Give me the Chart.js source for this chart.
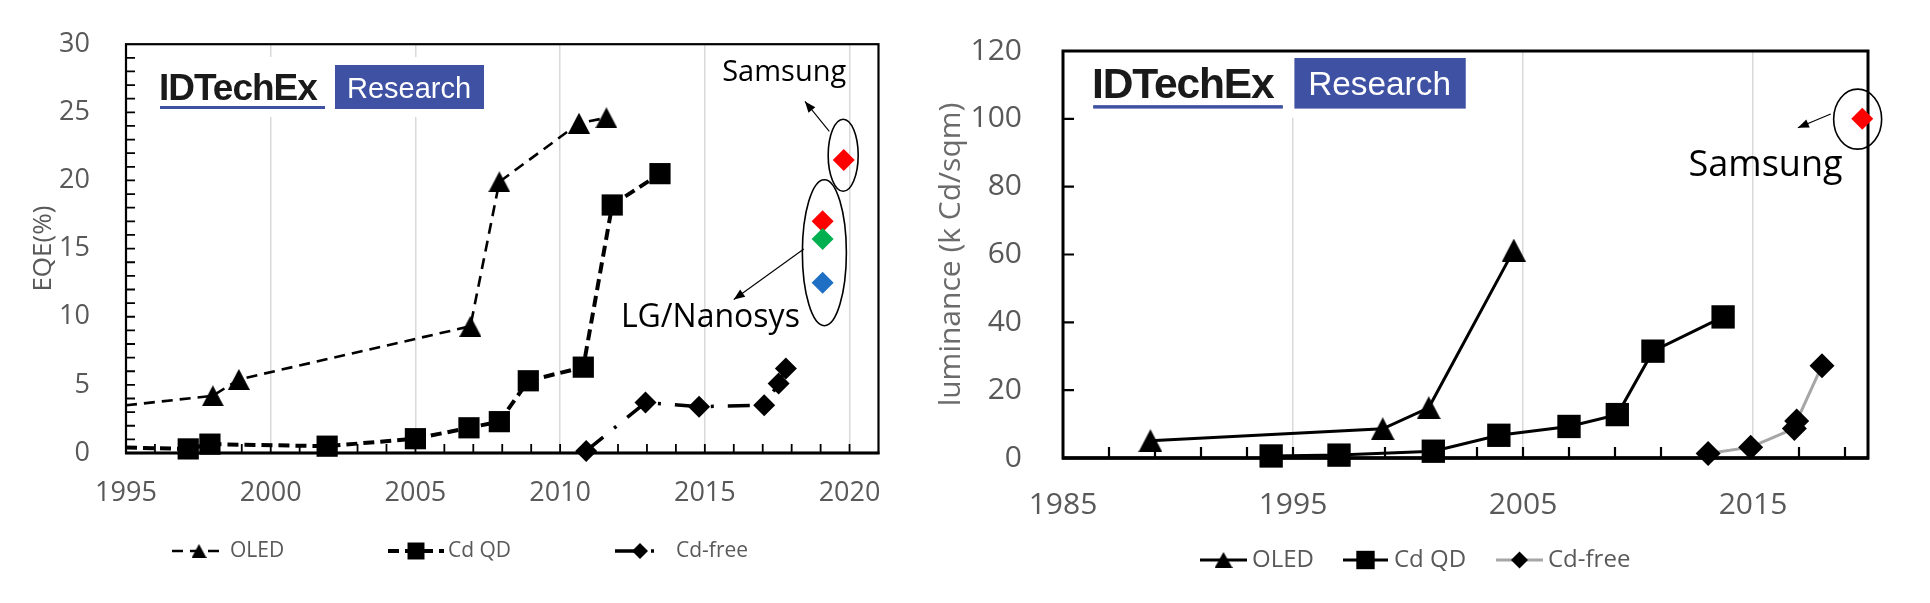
<!DOCTYPE html>
<html>
<head>
<meta charset="utf-8">
<script src="https://cdn.jsdelivr.net/npm/chart.js@4.4.1/dist/chart.umd.min.js"></script>
<style>
  html, body { margin: 0; padding: 0; background: #fff; }
  #wrap { position: relative; width: 1930px; height: 603px; overflow: hidden; }
  #eqe { position: absolute; left: 0; top: 0; }
  #lum { position: absolute; left: 905px; top: 0; }
</style>
</head>
<body>
<div id="wrap">
  <canvas id="eqe" width="905" height="603"></canvas>
  <canvas id="lum" width="1025" height="603"></canvas>
</div>
<script>
//////////////////////////////////////////////////////////////////////////////
// Data

// Left chart: EQE (%)
const eqeXTicks = [1995, 2000, 2005, 2010, 2015, 2020];
const eqeYTicks = [0, 5, 10, 15, 20, 25, 30];
const eqeOledYears = [1995, 1998.0, 1998.9, 2006.9, 2007.9, 2010.65, 2011.6];
const eqeOledValues = [3.5, 4.2, 5.4, 9.3, 19.9, 24.2, 24.6];
const eqeCdQdYears = [1995, 1997.15, 1997.9, 2001.95, 2005.0, 2006.85, 2007.9, 2008.9, 2010.8, 2011.8, 2013.45];
const eqeCdQdValues = [0.4, 0.3, 0.65, 0.5, 1.05, 1.85, 2.3, 5.3, 6.3, 18.2, 20.5];
const eqeCdFreeYears = [2010.9, 2012.95, 2014.8, 2017.05, 2017.55, 2017.8];
const eqeCdFreeValues = [0.15, 3.7, 3.4, 3.5, 5.1, 6.2];
const eqeSamsungYears = [2019.8];
const eqeSamsungValues = [21.5];
const eqeLgYears = [2019.07, 2019.07, 2019.07];
const eqeLgValues = [17.0, 15.7, 12.5];

// Right chart: luminance (k Cd/sqm)
const lumXTicks = [1985, 1995, 2005, 2015];
const lumYTicks = [0, 20, 40, 60, 80, 100, 120];
const lumOledYears = [1988.8, 1998.9, 2000.9, 2004.6];
const lumOledValues = [5.1, 8.6, 14.8, 61.3];
const lumCdQdYears = [1994.05, 1997.0, 2001.1, 2003.95, 2007.0, 2009.1, 2010.65, 2013.7];
const lumCdQdValues = [0.6, 0.85, 2.0, 6.7, 9.3, 12.8, 31.5, 41.6];
const lumCdFreeYears = [2013.05, 2014.9, 2016.8, 2016.9, 2018.0];
const lumCdFreeValues = [1.3, 3.2, 8.7, 10.9, 27.2];
const lumSamsungYears = [2019.75];
const lumSamsungValues = [100];

const seriesNames = ['OLED', 'Cd QD', 'Cd-free'];

//////////////////////////////////////////////////////////////////////////////
// helpers
const pts = (xs, ys) => xs.map((x, i) => ({ x: x, y: ys[i] }));
const GREY_TEXT = '#595959';
const FONT = '"Open Sans", "Noto Sans", sans-serif';
const LOGO_FONT = '"Liberation Sans", Arial, sans-serif';
const LOGO_BLUE = '#3F51A3';

// Excel style triangle: centred on its bounding box, not its centroid
function triangle(w, h) {
  const c = document.createElement('canvas');
  c.width = Math.ceil(w);
  c.height = Math.ceil(h);
  const g = c.getContext('2d');
  g.fillStyle = '#000';
  g.beginPath();
  g.moveTo(c.width / 2, 0);
  g.lineTo(c.width, c.height);
  g.lineTo(0, c.height);
  g.closePath();
  g.fill();
  return c;
}

function drawLogo(ctx, L) {
  const s = L.s;
  ctx.save();
  ctx.translate(L.x, L.y);
  ctx.scale(s, s);
  ctx.fillStyle = '#fff';
  ctx.fillRect(-7, -8, 338, 60);
  ctx.fillStyle = '#1a1a1a';
  ctx.font = 'bold 37px ' + LOGO_FONT;
  ctx.letterSpacing = '-1px';
  ctx.textBaseline = 'alphabetic';
  ctx.textAlign = 'left';
  ctx.fillText('IDTechEx', 0, 35);
  ctx.letterSpacing = '0px';
  ctx.fillStyle = LOGO_BLUE;
  ctx.fillRect(1, 41, 165, 3);
  ctx.fillRect(176, 0, 149, 44);
  ctx.fillStyle = '#fff';
  ctx.font = '29px ' + LOGO_FONT;
  ctx.fillText('Research', 188, 32.5);
  ctx.restore();
}

function arrow(ctx, x1, y1, x2, y2, head) {
  ctx.beginPath();
  ctx.moveTo(x1, y1);
  ctx.lineTo(x2, y2);
  ctx.stroke();
  const a = Math.atan2(y2 - y1, x2 - x1);
  const c = Math.cos(a), s = Math.sin(a), w = head * 0.4;
  ctx.beginPath();
  ctx.moveTo(x2, y2);
  ctx.lineTo(x2 - head * c + w * s, y2 - head * s - w * c);
  ctx.lineTo(x2 - head * c - w * s, y2 - head * s + w * c);
  ctx.closePath();
  ctx.fill();
}

// Frame, inner tick marks, logo, notes and the Excel-like legend
const notes = {
  id: 'notes',
  beforeDatasetsDraw(chart, args, o) {
    const { ctx, chartArea: a } = chart;
    const x = chart.scales.x, y = chart.scales.y;
    ctx.save();
    drawLogo(ctx, o.logo);
    ctx.strokeStyle = '#000';
    ctx.lineWidth = o.tickWidth;
    ctx.beginPath();
    const nx = Math.round((x.max - x.min) / o.xStep);
    for (let i = 1; i < nx; i++) {
      const px = x.getPixelForValue(x.min + i * o.xStep);
      ctx.moveTo(px, a.bottom);
      ctx.lineTo(px, a.bottom - o.tickLen);
    }
    const ny = Math.round((y.max - y.min) / o.yStep);
    for (let i = 1; i < ny; i++) {
      const py = y.getPixelForValue(y.min + i * o.yStep);
      ctx.moveTo(a.left, py);
      ctx.lineTo(a.left + o.tickLen, py);
    }
    ctx.stroke();
    ctx.lineWidth = o.frameWidth;
    ctx.strokeRect(a.left, a.top, a.width, a.height);
    ctx.lineWidth = o.axisWidth;
    ctx.beginPath();
    ctx.moveTo(a.left - 1, a.bottom);
    ctx.lineTo(a.right + 1, a.bottom);
    ctx.stroke();
    ctx.restore();
  },
  afterDatasetsDraw(chart, args, o) {
    const { ctx } = chart;
    const x = chart.scales.x, y = chart.scales.y;
    ctx.save();
    ctx.strokeStyle = '#000';
    ctx.fillStyle = '#000';
    ctx.setLineDash([]);
    ctx.lineWidth = 1.6;
    o.ellipses.forEach(e => {
      ctx.beginPath();
      ctx.ellipse(x.getPixelForValue(e.x), y.getPixelForValue(e.y), e.rx, e.ry, 0, 0, Math.PI * 2);
      ctx.stroke();
    });
    ctx.lineWidth = 1.1;
    o.arrows.forEach(r => {
      arrow(ctx, x.getPixelForValue(r.x1), y.getPixelForValue(r.y1),
        x.getPixelForValue(r.x2), y.getPixelForValue(r.y2), 11);
    });
    ctx.textAlign = 'left';
    ctx.textBaseline = 'middle';
    o.labels.forEach(t => {
      ctx.font = t.size + 'px ' + FONT;
      ctx.fillText(t.text, x.getPixelForValue(t.x), y.getPixelForValue(t.y));
    });
    // legend
    o.legend.items.forEach(it => {
      const ds = chart.data.datasets[it.ds];
      const ly = o.legend.y;
      ctx.strokeStyle = ds.borderColor;
      ctx.lineWidth = ds.borderWidth;
      ctx.setLineDash(ds.borderDash || []);
      ctx.beginPath();
      ctx.moveTo(it.x0, ly);
      ctx.lineTo(it.x1, ly);
      ctx.stroke();
      ctx.setLineDash([]);
      ctx.fillStyle = '#000';
      Chart.helpers.drawPoint(ctx, { pointStyle: it.style || ds.pointStyle, radius: it.r, rotation: 0, borderWidth: 0 },
        it.mx !== undefined ? it.mx : (it.x0 + it.x1) / 2, ly);
      ctx.fillStyle = GREY_TEXT;
      ctx.font = o.legend.size + 'px ' + FONT;
      ctx.fillText(seriesNames[it.ds], it.tx, ly);
    });
    ctx.restore();
  }
};

function series(label, xs, ys, style) {
  return Object.assign({
    label: label,
    data: pts(xs, ys),
    showLine: true,
    borderColor: '#000',
    backgroundColor: '#000',
    pointBackgroundColor: '#000',
    pointBorderWidth: 0,
    clip: false,
  }, style);
}

function marks(xs, ys, colors, r) {
  return {
    data: pts(xs, ys),
    showLine: false,
    pointStyle: 'rectRot',
    pointRadius: r,
    pointBackgroundColor: colors,
    pointBorderWidth: 0,
    clip: false,
  };
}

function axes(cfg) {
  return {
    x: {
      type: 'linear',
      min: cfg.xMin, max: cfg.xMax,
      afterBuildTicks: s => { s.ticks = cfg.xTicks.map(v => ({ value: v })); },
      afterFit: s => { s.height = cfg.xHeight; },
      grid: {
        drawTicks: false,
        lineWidth: 1.5,
        color: c => (c.tick && c.tick.value === cfg.xMin) ? 'rgba(0,0,0,0)' : '#d9d9d9',
      },
      border: { display: false },
      ticks: {
        padding: cfg.xPad,
        color: GREY_TEXT,
        font: { family: FONT, size: cfg.tickSize },
        maxRotation: 0,
        callback: v => String(v),
      },
    },
    y: {
      type: 'linear',
      min: cfg.yMin, max: cfg.yMax,
      afterBuildTicks: s => { s.ticks = cfg.yTicks.map(v => ({ value: v })); },
      afterFit: s => { s.width = cfg.yWidth; },
      grid: { display: false },
      border: { display: false },
      ticks: {
        padding: cfg.yPad,
        color: GREY_TEXT,
        font: { family: FONT, size: cfg.tickSize },
        callback: v => String(v),
      },
      title: {
        display: true,
        text: cfg.yTitle,
        color: cfg.yTitleColor,
        font: { family: FONT, size: cfg.yTitleSize },
        padding: { top: cfg.yTitlePad, bottom: 0 },
      },
    },
  };
}

function build() {
  const triL = triangle(22, 21);
  const triR = triangle(24, 23);

  //////////////////////////////////////////////////////////////////////////
  // EQE chart
  new Chart(document.getElementById('eqe'), {
    type: 'scatter',
    data: {
      datasets: [
        series('OLED', eqeOledYears, eqeOledValues, {
          borderWidth: 2.6, borderDash: [11, 7], pointStyle: triL,
          pointRadius: eqeOledYears.map((v, i) => i === 0 ? 0 : 12),
        }),
        series('Cd QD', eqeCdQdYears, eqeCdQdValues, {
          borderWidth: 4, borderDash: [11, 6], pointStyle: 'rect',
          pointRadius: eqeCdQdYears.map((v, i) => i === 0 ? 0 : 15),
        }),
        series('Cd-free', eqeCdFreeYears, eqeCdFreeValues, {
          borderWidth: 3.5, borderDash: [22, 14, 3, 14], pointStyle: 'rectRot', pointRadius: 11,
        }),
        marks(eqeSamsungYears, eqeSamsungValues, ['#FF0000'], 11),
        marks(eqeLgYears, eqeLgValues, ['#FF0000', '#00B050', '#1F6FC4'], 11),
      ],
    },
    options: {
      responsive: false,
      animation: false,
      events: [],
      layout: { padding: { left: 0, top: 32, right: 11, bottom: 0 } },
      scales: axes({
        xMin: 1995, xMax: 2021, xTicks: eqeXTicks, xHeight: 150, xPad: 24,
        yMin: 0, yMax: 30, yTicks: eqeYTicks, yWidth: 126, yPad: 28,
        tickSize: 27, yTitle: 'EQE(%)', yTitleColor: GREY_TEXT, yTitleSize: 26, yTitlePad: 28,
      }),
      plugins: {
        legend: { display: false },
        tooltip: { enabled: false },
        notes: {
          logo: { x: 159, y: 65, s: 1 },
          xStep: 1, yStep: 1, tickLen: 9, tickWidth: 1.8, frameWidth: 2.2, axisWidth: 3,
          ellipses: [
            { x: 2019.78, y: 21.85, rx: 15, ry: 36 },
            { x: 2019.13, y: 14.7, rx: 22, ry: 73 },
          ],
          arrows: [
            { x1: 2019.3, y1: 23.6, x2: 2018.46, y2: 25.8 },
            { x1: 2018.42, y1: 14.97, x2: 2016.0, y2: 11.26 },
          ],
          labels: [
            { text: 'Samsung', x: 2015.6, y: 27.9, size: 29 },
            { text: 'LG/Nanosys', x: 2012.1, y: 9.9, size: 32 },
          ],
          legend: {
            y: 551, size: 21,
            items: [
              { ds: 0, x0: 172, x1: 226, mx: 199, tx: 230, r: 8, style: triangle(15, 14) },
              { ds: 1, x0: 388, x1: 444, mx: 416, tx: 448, r: 12 },
              { ds: 2, x0: 615, x1: 661, mx: 640, tx: 676, r: 8 },
            ],
          },
        },
      },
    },
    plugins: [notes],
  });

  //////////////////////////////////////////////////////////////////////////
  // Luminance chart
  new Chart(document.getElementById('lum'), {
    type: 'scatter',
    data: {
      datasets: [
        series('OLED', lumOledYears, lumOledValues, {
          borderWidth: 3, pointStyle: triR, pointRadius: 12,
        }),
        series('Cd QD', lumCdQdYears, lumCdQdValues, {
          borderWidth: 3, pointStyle: 'rect', pointRadius: 16.5,
        }),
        series('Cd-free', lumCdFreeYears, lumCdFreeValues, {
          borderWidth: 3, borderColor: '#A6A6A6', pointStyle: 'rectRot', pointRadius: 12.5,
        }),
        marks(lumSamsungYears, lumSamsungValues, ['#FF0000'], 11),
      ],
    },
    options: {
      responsive: false,
      animation: false,
      events: [],
      layout: { padding: { left: 0, top: 33, right: 62, bottom: 0 } },
      scales: axes({
        xMin: 1985, xMax: 2020, xTicks: lumXTicks, xHeight: 145, xPad: 29,
        yMin: 0, yMax: 120, yTicks: lumYTicks, yWidth: 158, yPad: 33,
        tickSize: 30, yTitle: 'luminance (k Cd/sqm)', yTitleColor: '#6b6b6b', yTitleSize: 30, yTitlePad: 28,
      }),
      plugins: {
        legend: { display: false },
        tooltip: { enabled: false },
        notes: {
          logo: { x: 187, y: 58, s: 1.15 },
          xStep: 2, yStep: 20, tickLen: 11, tickWidth: 2.2, frameWidth: 3, axisWidth: 3.6,
          ellipses: [
            { x: 2019.55, y: 99.9, rx: 24, ry: 30 },
          ],
          arrows: [
            { x1: 2018.38, y1: 101.4, x2: 2016.95, y2: 97.4 },
          ],
          labels: [
            { text: 'Samsung', x: 2012.2, y: 86.2, size: 36 },
          ],
          legend: {
            y: 560, size: 24,
            items: [
              { ds: 0, x0: 295, x1: 342, tx: 347, r: 9, style: triangle(18, 16) },
              { ds: 1, x0: 438, x1: 483, tx: 489, r: 13 },
              { ds: 2, x0: 591, x1: 638, tx: 643, r: 8.5 },
            ],
          },
        },
      },
    },
    plugins: [notes],
  });
}

Promise.all([
  document.fonts.load('26px "Open Sans"'),
  document.fonts.load('bold 37px "Liberation Sans"'),
  document.fonts.load('29px "Liberation Sans"'),
]).catch(() => {}).then(build);
</script>
</body>
</html>
